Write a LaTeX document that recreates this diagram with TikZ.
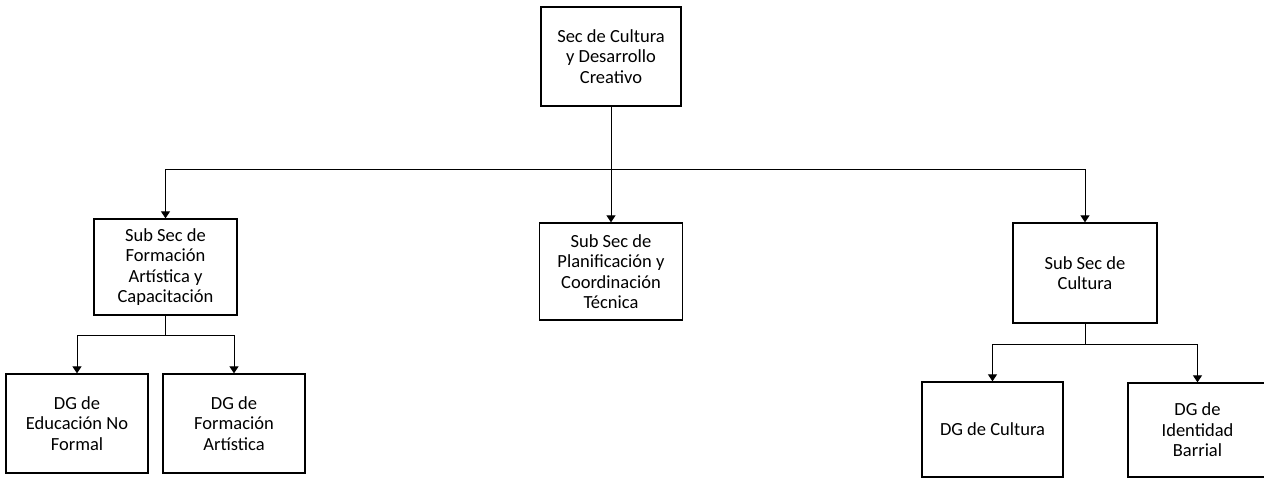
\documentclass[tikz,border=0pt]{standalone}
\usepackage{fontspec}
\setmainfont{Carlito}
\usetikzlibrary{arrows.meta}
\begin{document}
\begin{tikzpicture}[x=1pt,y=-1pt,
  unit/.style={draw=black, line width=1.3pt, fill=white, inner sep=0pt,
    align=center, font=\fontsize{18.5}{20.5}\selectfont},
  link/.style={draw=black, line width=1pt},
  arr/.style={link, -{Triangle[width=9pt,length=7pt]}}]
  \fill[white] (0,0) rectangle (1264,479);
  \useasboundingbox (0,0) rectangle (1264,479);

  % top level
  \node[unit, minimum width=140pt, minimum height=99pt] (top) at (611,56.5)
    {Sec de Cultura\\y Desarrollo\\Creativo};

  % sub-secretariats
  \node[unit, minimum width=143pt, minimum height=96pt] (sfa) at (165.5,267)
    {Sub Sec de\\Formación\\Artística y\\Capacitación};
  \node[unit, minimum width=143pt, minimum height=97pt] (spc) at (611,271.5)
    {Sub Sec de\\Planificación y\\Coordinación\\Técnica};
  \node[unit, minimum width=144pt, minimum height=100pt] (scu) at (1085,273)
    {Sub Sec de\\Cultura};

  % general directorates
  \node[unit, minimum width=142pt, minimum height=99pt] (dgen) at (77,423.5)
    {DG de\\Educación No\\Formal};
  \node[unit, minimum width=142pt, minimum height=99pt] (dgfa) at (234,423.5)
    {DG de\\Formación\\Artística};
  \node[unit, minimum width=141pt, minimum height=95pt] (dgc) at (992.5,429.5)
    {DG de Cultura};
  \node[unit, minimum width=139pt, minimum height=94pt] (dgib) at (1197.5,430)
    {DG de\\Identidad\\Barrial};

  % junction points of the connector buses
  \coordinate (j1) at (611,169);
  \coordinate (j2) at (165.5,335);
  \coordinate (j3) at (1085,344);

  \draw[link] (top) -- (j1);
  \draw[arr] (j1) -| (sfa);
  \draw[arr] (j1) -- (spc);
  \draw[arr] (j1) -| (scu);

  \draw[link] (sfa) -- (j2);
  \draw[arr] (j2) -| (dgen);
  \draw[arr] (j2) -| (dgfa);

  \draw[link] (scu) -- (j3);
  \draw[arr] (j3) -| (dgc);
  \draw[arr] (j3) -| (dgib);
\end{tikzpicture}
\end{document}
